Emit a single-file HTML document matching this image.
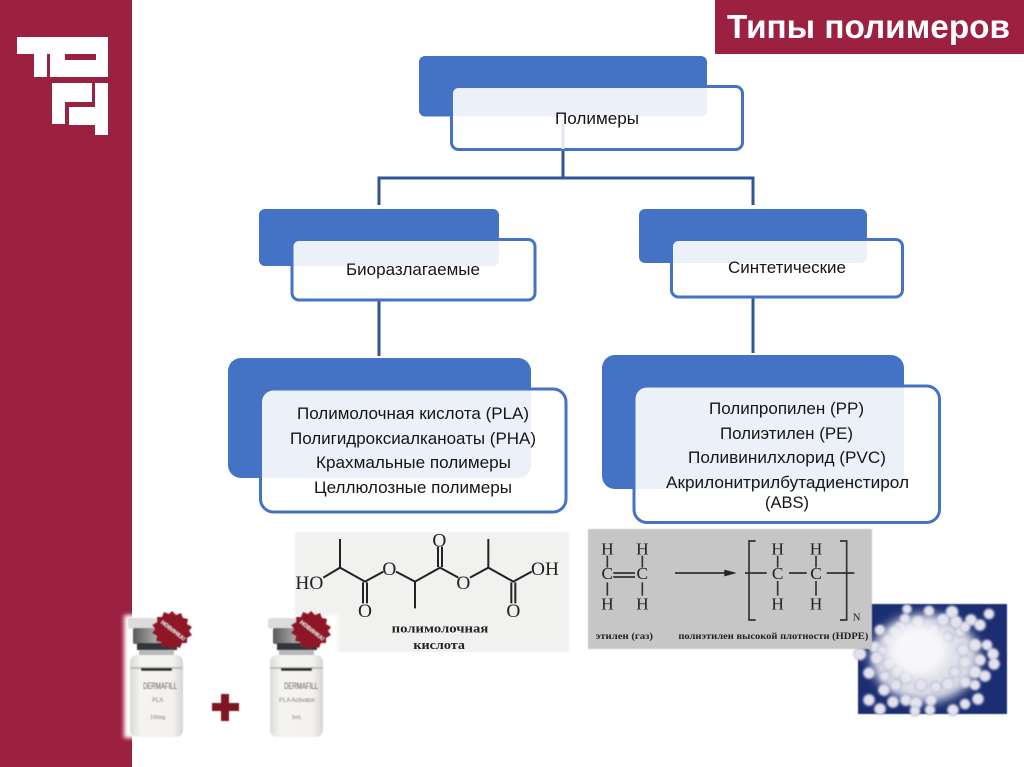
<!DOCTYPE html>
<html lang="ru">
<head>
<meta charset="utf-8">
<title>Типы полимеров</title>
<style>
html,body{margin:0;padding:0;background:#fff;width:1024px;height:767px;overflow:hidden}
svg{display:block}
text{font-family:"Liberation Sans",sans-serif}
.l{font-size:17px;fill:#151515}
.m{font-family:"Liberation Serif",serif;fill:#222}
</style>
</head>
<body>
<svg width="1024" height="767" viewBox="0 0 1024 767" xmlns="http://www.w3.org/2000/svg">
<defs>
<filter id="b1" x="-5%" y="-5%" width="110%" height="110%"><feGaussianBlur stdDeviation="2"/></filter>
<filter id="b2" x="-5%" y="-5%" width="110%" height="110%"><feGaussianBlur stdDeviation="0.6"/></filter>
<filter id="b3" x="-5%" y="-5%" width="110%" height="110%"><feGaussianBlur stdDeviation="0.9"/></filter>
<filter id="b4" x="-15%" y="-15%" width="130%" height="130%"><feGaussianBlur stdDeviation="5"/></filter>
<filter id="b5" x="-5%" y="-5%" width="110%" height="110%"><feGaussianBlur stdDeviation="1"/></filter>
<linearGradient id="glass" x1="0" x2="1" y1="0" y2="0"><stop offset="0" stop-color="#dbdad8"/><stop offset=".2" stop-color="#f5f4f2"/><stop offset=".8" stop-color="#f3f2f0"/><stop offset="1" stop-color="#d6d5d3"/></linearGradient>
<linearGradient id="cap" x1="0" x2="1" y1="0" y2="0"><stop offset="0" stop-color="#5a5a5a"/><stop offset=".5" stop-color="#a8a8a8"/><stop offset="1" stop-color="#606060"/></linearGradient>
<polygon id="star" points="0,-19 4,-15 9,-17 11,-12 16,-11 15,-6 20,-3 17,1 20,5 15,8 15,13 10,13 8,18 3,16 -1,20 -5,16 -10,17 -11,12 -16,11 -15,6 -20,3 -17,-1 -20,-5 -15,-8 -15,-13 -10,-13 -8,-18 -3,-16" fill="#8f1526"/>
</defs>

<!-- sidebar -->
<rect x="0" y="0" width="132" height="767" fill="#9c2040"/>
<g fill="#fff">
<path d="M17 37H108V77H50V54H47V77H34V54H17Z M65 54V60H96V54Z" fill-rule="evenodd"/>
<path d="M52 83H92V102H65V124H52Z"/>
<path d="M95 83H108V135H95V125H69V107H95Z"/>
</g>

<!-- title -->
<rect x="715" y="0" width="309" height="54" fill="#9c2040"/>
<text x="727" y="38" font-size="33" font-weight="700" fill="#fff" textLength="283" lengthAdjust="spacingAndGlyphs">Типы полимеров</text>

<!-- connectors -->
<g fill="none" stroke="#2f5597" stroke-width="3">
<path d="M563 150V178"/>
<path d="M379 205V178H753V205"/>
<path d="M379 300V356"/>
<path d="M753 297V353"/>
</g>

<!-- top node -->
<rect x="419" y="56" width="288" height="60.500" rx="6" fill="#4472c4"/>
<rect x="451.500" y="86.500" width="291" height="63" rx="7" fill="#fff" fill-opacity=".9" stroke="#4472c4" stroke-width="3"/>
<path d="M563 124V149" stroke="#e3e7f1" stroke-width="3"/>
<text class="l" x="555" y="124" textLength="84" lengthAdjust="spacingAndGlyphs">Полимеры</text>

<!-- level 2 -->
<rect x="259" y="209" width="240" height="57" rx="6" fill="#4472c4"/>
<rect x="292" y="239.500" width="243" height="60.500" rx="7" fill="#fff" fill-opacity=".9" stroke="#4472c4" stroke-width="3"/>
<text class="l" x="346" y="275" textLength="134" lengthAdjust="spacingAndGlyphs">Биоразлагаемые</text>

<rect x="639" y="209" width="228" height="54" rx="6" fill="#4472c4"/>
<rect x="671.500" y="239.500" width="231" height="57.500" rx="7" fill="#fff" fill-opacity=".9" stroke="#4472c4" stroke-width="3"/>
<text class="l" x="728" y="273" textLength="118" lengthAdjust="spacingAndGlyphs">Синтетические</text>

<!-- level 3 left -->
<rect x="228" y="358" width="303" height="120" rx="13" fill="#4472c4"/>
<rect x="260.500" y="389" width="305.500" height="123" rx="13" fill="#fff" fill-opacity=".9" stroke="#4472c4" stroke-width="3"/>
<text class="l" x="297" y="419" textLength="232" lengthAdjust="spacingAndGlyphs">Полимолочная кислота (PLA)</text>
<text class="l" x="290" y="444" textLength="246" lengthAdjust="spacingAndGlyphs">Полигидроксиалканоаты (PHA)</text>
<text class="l" x="316" y="468" textLength="195" lengthAdjust="spacingAndGlyphs">Крахмальные полимеры</text>
<text class="l" x="314" y="493" textLength="198" lengthAdjust="spacingAndGlyphs">Целлюлозные полимеры</text>

<!-- level 3 right -->
<rect x="602" y="355" width="302" height="134" rx="13" fill="#4472c4"/>
<rect x="634" y="386" width="305.500" height="136.500" rx="13" fill="#fff" fill-opacity=".9" stroke="#4472c4" stroke-width="3"/>
<text class="l" x="709" y="414" textLength="155" lengthAdjust="spacingAndGlyphs">Полипропилен (PP)</text>
<text class="l" x="720" y="439" textLength="133" lengthAdjust="spacingAndGlyphs">Полиэтилен (PE)</text>
<text class="l" x="688" y="463" textLength="198" lengthAdjust="spacingAndGlyphs">Поливинилхлорид (PVC)</text>
<text class="l" x="666" y="488" textLength="243" lengthAdjust="spacingAndGlyphs">Акрилонитрилбутадиенстирол</text>
<text class="l" x="765" y="508" textLength="44" lengthAdjust="spacingAndGlyphs">(ABS)</text>

<!-- PLA image -->
<rect x="295" y="532" width="274" height="120" fill="#f1f1f0" filter="url(#b2)"/>
<g transform="translate(290 525) scale(.33333)" filter="url(#b3)">
<g fill="none" stroke="#222" stroke-width="6">
<path d="M150 42V128L100 158M150 128L225 170L280 140M318 140L375 170V250M375 170L450 128L505 158M540 158L595 128V42M595 128L670 170L725 140"/>
<path d="M219 172V235M231 172V235M444 126V65M456 126V65M664 172V235M676 172V235"/>
</g>
<g font-size="58" text-anchor="middle">
<text class="m" x="58" y="192">HO</text>
<text class="m" x="298" y="150">O</text>
<text class="m" x="225" y="276">O</text>
<text class="m" x="448" y="64">O</text>
<text class="m" x="520" y="192">O</text>
<text class="m" x="670" y="276">O</text>
<text class="m" x="765" y="150">OH</text>
</g>
<text class="m" x="305" y="322" font-size="38" font-weight="700" fill="#444" textLength="290" lengthAdjust="spacingAndGlyphs">полимолочная</text>
<text class="m" x="370" y="372" font-size="38" font-weight="700" fill="#444" textLength="155" lengthAdjust="spacingAndGlyphs">кислота</text>
</g>

<!-- pellets (under the HDPE image) -->
<rect x="858" y="604" width="149" height="110" fill="#1d2f72" filter="url(#b2)"/>
<g filter="url(#b4)"><ellipse cx="925" cy="658" rx="54" ry="44" fill="#dfdfe9"/></g>
<g filter="url(#b5)" fill="#e4e4ee" stroke="#aeb2cc" stroke-width="1">
<circle cx="907" cy="609" r="4.500"/><circle cx="929" cy="611" r="5"/><circle cx="952" cy="612" r="6"/><circle cx="989" cy="614" r="5"/>
<circle cx="905" cy="619" r="5"/><circle cx="943" cy="620" r="6"/><circle cx="956" cy="622" r="6"/><circle cx="971" cy="620" r="5.500"/><circle cx="980" cy="625" r="5.500"/>
<circle cx="880" cy="630" r="5"/><circle cx="900" cy="628" r="6"/><circle cx="918" cy="622" r="6"/><circle cx="934" cy="630" r="6"/><circle cx="960" cy="632" r="5"/><circle cx="965" cy="627" r="5"/>
<circle cx="889" cy="640" r="6"/><circle cx="895" cy="632" r="6"/><circle cx="948" cy="637" r="5"/><circle cx="975" cy="645" r="6"/><circle cx="987" cy="645" r="5"/>
<circle cx="860" cy="654" r="6"/><circle cx="875" cy="647" r="5.500"/><circle cx="882" cy="651" r="5"/><circle cx="963" cy="650" r="6"/><circle cx="993" cy="654" r="5.500"/>
<circle cx="877" cy="658" r="6"/><circle cx="889" cy="664" r="6"/><circle cx="965" cy="662" r="6"/><circle cx="980" cy="660" r="5.500"/><circle cx="994" cy="664" r="5.500"/>
<circle cx="869" cy="673" r="5.500"/><circle cx="885" cy="676" r="5"/><circle cx="897" cy="672" r="6"/><circle cx="955" cy="672" r="5.500"/><circle cx="975" cy="672" r="6"/><circle cx="985" cy="676" r="5.500"/>
<circle cx="884" cy="690" r="5.500"/><circle cx="896" cy="685" r="5.500"/><circle cx="906" cy="678" r="6"/><circle cx="921" cy="685" r="6"/><circle cx="936" cy="687" r="5.500"/><circle cx="948" cy="684" r="6"/><circle cx="965" cy="682" r="5.500"/><circle cx="975" cy="685" r="5"/>
<circle cx="869" cy="700" r="5.500"/><circle cx="893" cy="702" r="5.500"/><circle cx="906" cy="700" r="5.500"/><circle cx="916" cy="703" r="6"/><circle cx="931" cy="700" r="5.500"/><circle cx="965" cy="704" r="5"/><circle cx="978" cy="699" r="5.500"/>
<circle cx="880" cy="709" r="5.500"/><circle cx="915" cy="711" r="5"/><circle cx="930" cy="710" r="5"/><circle cx="953" cy="710" r="5.500"/>
</g>
<g filter="url(#b4)" fill="#f7f6fa"><ellipse cx="918" cy="650" rx="30" ry="26"/></g>

<!-- HDPE image -->
<rect x="588" y="529" width="284" height="120" fill="#c6c6c6" filter="url(#b2)"/>
<g transform="translate(585 525) scale(.33333)" filter="url(#b3)">
<g fill="none" stroke="#333" stroke-width="5">
<path d="M67 92V128M67 172V212M172 92V128M172 172V212"/>
<path d="M85 144H150M85 156H150"/>
<path d="M270 144H420"/>
<path d="M480 144H545M612 144H665M725 144H808"/>
<path d="M578 92V128M578 168V212M693 92V128M693 168V212"/>
<path d="M512 48H492V285H512M765 48H785V285H765"/>
</g>
<path d="M418 134L455 144L418 154Z" fill="#222"/>
<g font-size="52" text-anchor="middle">
<text class="m" x="67" y="88">H</text><text class="m" x="172" y="88">H</text>
<text class="m" x="67" y="162">C</text><text class="m" x="172" y="162">C</text>
<text class="m" x="67" y="254">H</text><text class="m" x="172" y="254">H</text>
<text class="m" x="578" y="88">H</text><text class="m" x="693" y="88">H</text>
<text class="m" x="578" y="162">C</text><text class="m" x="693" y="162">C</text>
<text class="m" x="578" y="254">H</text><text class="m" x="693" y="254">H</text>
</g>
<text class="m" x="815" y="286" font-size="32" text-anchor="middle">N</text>
<text class="m" x="32" y="342" font-size="28" font-weight="700" fill="#444" textLength="172" lengthAdjust="spacingAndGlyphs">этилен (газ)</text>
<text class="m" x="280" y="342" font-size="28" font-weight="700" fill="#444" textLength="570" lengthAdjust="spacingAndGlyphs">полиэтилен высокой плотности (HDPE)</text>
</g>

<!-- vials image -->
<rect x="124" y="615" width="214" height="123" fill="#fff" filter="url(#b1)"/>
<g filter="url(#b2)">
<g>
<rect x="128" y="618" width="39" height="11" rx="3" fill="#dcdcdc"/>
<rect x="133" y="628" width="44" height="16" rx="2" fill="url(#cap)"/>
<rect x="137" y="643" width="40" height="7" fill="#33343a"/>
<rect x="139" y="650" width="35" height="5" fill="#b8b8b8"/>
<rect x="130" y="655" width="53" height="82" rx="7" fill="url(#glass)"/>
<rect x="130" y="667" width="53" height="2" fill="#bbb"/>
<rect x="141" y="668" width="31" height="3" fill="#2a2a2a"/>
<text x="143" y="689" font-size="9" fill="#333" textLength="34" lengthAdjust="spacingAndGlyphs">DERMAFILL</text>
<text x="152" y="702" font-size="6" fill="#666">PLA</text>
<text x="150" y="719" font-size="5" fill="#666">100mg</text>
<use href="#star" transform="translate(172 630)"/>
<text x="0" y="0" font-size="5.500" font-weight="700" fill="#eee" text-anchor="middle" transform="translate(172 632) rotate(38)">НОВИНКА!</text>
</g>
<g>
<rect x="268" y="618" width="39" height="11" rx="3" fill="#dcdcdc"/>
<rect x="273" y="628" width="44" height="16" rx="2" fill="url(#cap)"/>
<rect x="277" y="643" width="40" height="7" fill="#33343a"/>
<rect x="279" y="650" width="35" height="5" fill="#b8b8b8"/>
<rect x="270" y="655" width="53" height="82" rx="7" fill="url(#glass)"/>
<rect x="270" y="667" width="53" height="2" fill="#bbb"/>
<rect x="281" y="668" width="31" height="3" fill="#2a2a2a"/>
<text x="284" y="689" font-size="9" fill="#333" textLength="34" lengthAdjust="spacingAndGlyphs">DERMAFILL</text>
<text x="279" y="702" font-size="6" fill="#666">PLA Activator</text>
<text x="292" y="719" font-size="5" fill="#666">5mL</text>
<use href="#star" transform="translate(311 630)"/>
<text x="0" y="0" font-size="5.500" font-weight="700" fill="#eee" text-anchor="middle" transform="translate(311 632) rotate(38)">НОВИНКА!</text>
</g>
<path d="M221 694h8v9h10v8h-10v10h-8v-10h-9v-8h9Z" fill="#7d1220"/>
</g>
</svg>
</body>
</html>
